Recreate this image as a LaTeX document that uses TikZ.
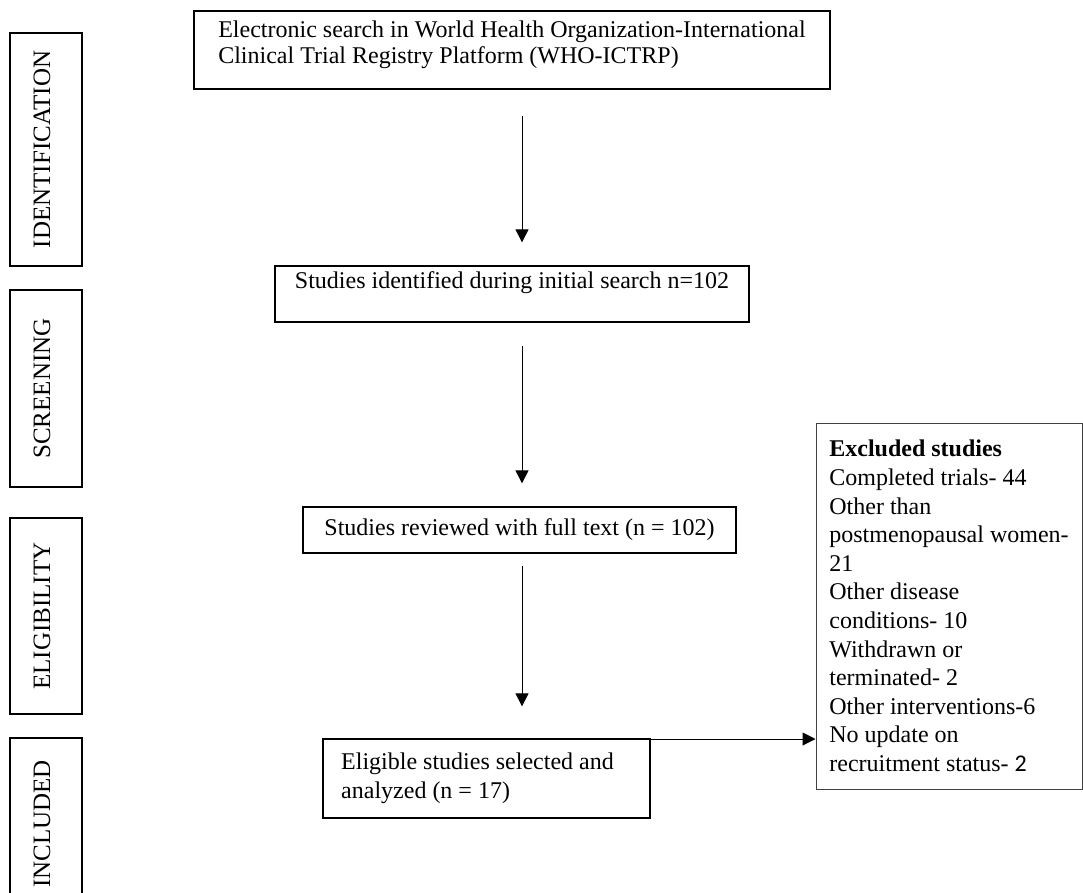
\documentclass[tikz,border=0pt]{standalone}
\usepackage{fontspec}
\setmainfont{Liberation Serif}
\newfontfamily\calibfont{Carlito}
\usepackage{tikz}
\usetikzlibrary{positioning, arrows.meta, calc}

\begin{document}
\begin{tikzpicture}[x=1pt, y=-1pt,
  font=\fontsize{24}{26}\selectfont,
  box/.style={draw, line width=1.3pt, inner sep=0pt, align=left},
  phase/.style={draw, line width=1.7pt, rotate=90, inner sep=0pt,
                minimum height=72pt, font=\fontsize{25}{28}\selectfont,
                text height=16.5pt, text depth=8.5pt},
  arr/.style={-{Triangle[width=13pt, length=13pt]}, line width=1pt}]

  \useasboundingbox (0,0) rectangle (1083,893);

  % Phase labels on the left
  \node[phase, minimum width=233pt] (ident)  at (46,149.5) {IDENTIFICATION};
  \node[phase, minimum width=197pt] (screen) at (46,388.5) {SCREENING};
  \node[phase, minimum width=196pt] (elig)   at (46,616)   {ELIGIBILITY};
  \node[phase, minimum width=172pt] (incl)   at (46,824)   {INCLUDED};

  % Flow boxes top to bottom
  \node[box, line width=1.7pt, minimum width=636pt, minimum height=78pt] (search) at (512,50)
    {Electronic search in World Health Organization-International\\
     Clinical Trial Registry Platform (WHO-ICTRP)\rule[-16pt]{0pt}{0pt}};
  \node[box, minimum width=474pt, minimum height=56pt,
        text height=16.4pt, text depth=28.4pt] (found) at (512,294)
    {Studies identified during initial search n=102};
  \node[box, minimum width=433pt, minimum height=46pt,
        text height=16.4pt, text depth=5pt] (reviewed) at (519.5,530)
    {Studies reviewed with full text (n = 102)};
  \node[box, minimum width=327pt, minimum height=79pt,
        font=\fontsize{24}{29}\selectfont] (eligible) at (486.5,778.5)
    {Eligible studies selected and\hspace*{18pt}\\ analyzed (n = 17)};

  % Excluded studies box
  \node[box, draw=black!75, line width=1pt, minimum width=266pt, minimum height=366pt,
        font=\fontsize{24}{28.6}\selectfont] (excluded) at (949,606)
    {\textbf{Excluded studies}\\ Completed trials- 44\\ Other than\\
     postmenopausal women-\\ 21\\ Other disease\\ conditions- 10\\
     Withdrawn or\\ terminated- 2\\ Other interventions-6\\ No update on\\
     recruitment status- {\calibfont\fontsize{24}{28.6}\selectfont 2}};

  % Downward arrows
  \coordinate (spine) at (522,0);
  \draw[arr, shorten <=26pt, shorten >=23pt] (spine |- search.south)   -- (spine |- found.north);
  \draw[arr, shorten <=23pt, shorten >=23pt] (spine |- found.south)    -- (spine |- reviewed.north);
  \draw[arr, shorten <=12pt, shorten >=32pt] (spine |- reviewed.south) -- (spine |- eligible.north);

  % Side arrow to excluded box
  \coordinate (branch) at (510,739);
  \draw[arr] (branch) -- (branch -| excluded.west);
\end{tikzpicture}
\end{document}
